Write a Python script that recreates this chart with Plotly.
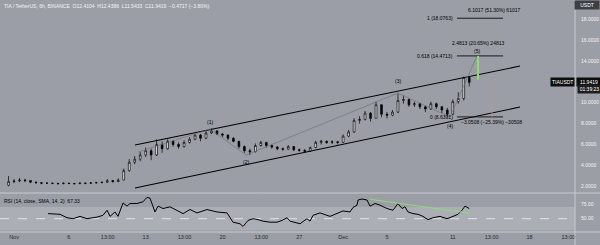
import pandas as pd
import plotly.graph_objects as go

BASE = pd.Timestamp("2023-11-01 00:00")


def at(day):
    return (BASE + pd.Timedelta(days=day)).strftime("%Y-%m-%d %H:%M:%S")


# ---------------- data ----------------
candle_start_day = -0.5      # Oct 31 12:00
candle_step_days = 0.5
first_open = 2.10
closes = [2.45, 2.50, 2.60, 2.55, 2.40, 2.35, 2.30, 2.30, 2.28, 2.25,
          2.30, 2.27, 2.25, 2.30, 2.28, 2.33, 2.35, 2.38, 2.55, 2.45,
          2.60, 3.50, 4.30, 4.60, 5.00, 5.40, 5.00, 6.00, 5.60, 6.30,
          6.00, 5.80, 6.20, 6.50, 6.90, 6.60, 7.10, 7.30, 7.00, 6.90,
          6.60, 6.30, 5.80, 5.40, 5.30, 5.90, 6.20, 5.90, 5.75, 5.60,
          5.55, 5.80, 5.50, 5.45, 5.35, 5.70, 6.20, 6.30, 6.20, 6.25,
          6.20, 6.80, 7.20, 8.30, 8.40, 9.00, 8.50, 9.80, 8.90, 8.80,
          9.10, 10.20, 10.30, 9.80, 9.90, 9.60, 9.40, 9.90, 9.60, 9.30,
          8.90, 10.10, 10.40, 12.41, 11.9419]
highs = [2.98, 2.70, 2.80, 2.72, 2.60, 2.45, 2.40, 2.38, 2.35, 2.33,
         2.36, 2.34, 2.32, 2.36, 2.35, 2.40, 2.42, 2.45, 2.70, 2.60,
         2.75, 3.70, 4.60, 4.90, 5.30, 5.70, 5.60, 6.50, 6.30, 6.50,
         6.40, 6.20, 6.40, 6.70, 7.00, 7.00, 7.30, 7.55, 7.35, 7.10,
         6.95, 6.70, 6.35, 5.90, 5.60, 6.10, 6.35, 6.25, 6.00, 5.85,
         5.70, 5.95, 5.85, 5.60, 5.55, 5.80, 6.35, 6.45, 6.40, 6.40,
         6.35, 6.95, 7.40, 8.50, 8.70, 9.20, 9.10, 10.10, 9.80, 9.10,
         9.30, 10.90, 10.70, 10.40, 10.10, 10.00, 9.70, 10.10, 10.00, 9.70,
         9.50, 10.30, 11.00, 12.50, 12.4386]
lows = [2.00, 2.30, 2.40, 2.40, 2.30, 2.25, 2.20, 2.22, 2.20, 2.18,
        2.20, 2.20, 2.18, 2.22, 2.20, 2.25, 2.28, 2.30, 2.35, 2.35,
        2.40, 2.60, 3.40, 4.10, 4.40, 4.80, 4.50, 4.90, 5.20, 5.50,
        5.80, 5.60, 5.70, 6.10, 6.40, 6.30, 6.50, 7.00, 6.90, 6.70,
        6.40, 6.20, 5.60, 5.20, 5.00, 5.25, 5.80, 5.70, 5.60, 5.45,
        5.40, 5.50, 5.35, 5.30, 5.20, 5.30, 5.65, 6.00, 6.05, 6.05,
        6.00, 6.15, 6.70, 7.10, 8.00, 8.30, 8.20, 8.50, 8.60, 8.50,
        8.70, 9.00, 9.90, 9.60, 9.60, 9.40, 9.10, 9.30, 9.40, 9.00,
        8.64, 8.80, 9.90, 10.20, 11.5433]

rsi_days = [3.10, 4.19, 4.83, 5.38, 6.02, 6.65, 7.57, 8.11, 8.48, 8.75,
            9.21, 9.48, 9.94, 10.30, 10.57, 11.21, 11.76, 12.12, 12.40, 12.85,
            13.13, 13.58, 14.22, 14.86, 15.41, 16.04, 16.68, 17.59, 18.50, 19.42,
            19.96, 20.60, 20.88, 21.33, 21.79, 22.24, 22.70, 23.34, 23.97, 24.43,
            24.89, 25.16, 25.80, 26.07, 26.71, 26.98, 27.26, 27.89, 28.81, 29.44,
            29.99, 30.63, 30.90, 31.27, 31.36, 31.72, 32.18, 32.45, 32.91, 33.36,
            34.00, 34.55, 35.00, 35.37, 35.64, 35.92, 36.37, 36.83, 37.28, 37.74,
            38.20, 38.83, 39.47, 40.02, 40.47, 40.84, 41.11, 41.50]
rsi_values = [58.7, 57.5, 51.7, 50.0, 54.0, 50.0, 52.8, 55.8, 64.5, 54.0,
              61.5, 54.0, 77.0, 71.5, 76.0, 76.0, 79.0, 86.6, 85.0, 61.5,
              71.5, 67.4, 70.3, 64.5, 58.7, 65.7, 59.9, 65.7, 61.5, 59.9,
              44.0, 41.3, 36.6, 47.0, 50.0, 48.3, 45.8, 44.0, 44.0, 47.0,
              51.7, 45.8, 42.3, 41.3, 50.0, 45.8, 55.8, 59.9, 54.0, 58.7,
              63.3, 61.5, 69.2, 73.2, 82.0, 83.7, 82.0, 71.5, 76.0, 73.2,
              67.4, 64.5, 76.0, 67.4, 70.3, 61.5, 58.7, 57.5, 54.0, 48.3,
              51.7, 54.0, 50.0, 54.0, 57.5, 64.5, 71.5, 67.33]
rsi_div_days = [32.45, 41.60]
rsi_div_values = [83.2, 59.2]

wave_days = [11.30, 17.87, 21.15, 35.00, 39.74, 42.20]
wave_prices = [5.28, 7.48, 4.99, 10.92, 8.63, 14.47]
wave_labels = ["", "(1)", "(2)", "(3)", "(4)", "(5)"]

channel_days = [11.03, 46.13]
channel_upper = [5.95, 13.50]
channel_lower = [1.84, 9.58]

fib_days = [40.38, 44.58]
fib_levels = [18.0763, 14.4713, 8.6391]
fib_names = ["1 (18.0763)", "0.618 (14.4713)", "0 (8.6391)"]
measure_texts = ["6.1017 (51.30%) 61017", "2.4813 (20.65%) 24813",
                 "\u22123.0508 (\u221225.39%) \u221230508"]
measure_days = [43.76, 42.30, 43.50]

target_day = 42.30
target_range = [12.20, 14.47]
stop_day = 43.57
stop_range = [12.10, 8.64]

last_price = 11.9419
countdown = "01:39:23"
header = ("TIA / TetherUS, 6h, BINANCE  O12.4104  H12.4386  L11.5433  "
          "C11.9419  \u22120.4717 (\u22123.80%)")
rsi_title = "RSI (14, close, SMA, 14, 2)  67.33"

x_tick_days = [0, 5, 8.54, 12, 15.54, 19, 22.54, 26, 30, 34, 40, 43.54, 47, 50.54]
x_tick_text = ["Nov", "6", "13:00", "13", "13:00", "20", "13:00", "27",
               "Dec", "5", "11", "13:00", "18", "13:00"]
price_ticks = [2, 4, 6, 8, 10, 14, 16, 18]
rsi_ticks = [75, 50]
x_view = [-1.28, 51.14]

# ---------------- styling ----------------
BG = "#9b9ea6"
BAND = "#abaeb5"
SEP = "#c9cbd0"
FONT = "Liberation Sans"

opens = [first_open] + closes[:-1]
candle_x = [at(candle_start_day + i * candle_step_days) for i in range(len(closes))]

fig = go.Figure()
fig.add_trace(go.Candlestick(
    x=candle_x, open=opens, high=highs, low=lows, close=closes,
    increasing=dict(fillcolor="#ffffff", line=dict(color="#000000", width=0.7)),
    decreasing=dict(fillcolor="#000000", line=dict(color="#000000", width=0.7)),
    whiskerwidth=0, xaxis="x", yaxis="y", hoverinfo="skip"))

# channel
for ys in (channel_upper, channel_lower):
    fig.add_trace(go.Scatter(x=[at(d) for d in channel_days], y=ys, mode="lines",
                             line=dict(color="#000000", width=1.1),
                             xaxis="x", yaxis="y", hoverinfo="skip"))
# wave count path
fig.add_trace(go.Scatter(x=[at(d) for d in wave_days], y=wave_prices, mode="lines",
                         line=dict(color="#6a6d74", width=0.6),
                         xaxis="x", yaxis="y", hoverinfo="skip"))
# fib levels
for lv in fib_levels:
    fig.add_trace(go.Scatter(x=[at(d) for d in fib_days], y=[lv, lv], mode="lines",
                             line=dict(color="#1a1a1a", width=1),
                             xaxis="x", yaxis="y", hoverinfo="skip"))
# target & stop verticals
fig.add_trace(go.Scatter(x=[at(target_day)] * 2, y=target_range, mode="lines",
                         line=dict(color="#8fdc74", width=2),
                         xaxis="x", yaxis="y", hoverinfo="skip"))
fig.add_trace(go.Scatter(x=[at(stop_day)] * 2, y=stop_range, mode="lines",
                         line=dict(color="#c3929a", width=0.8),
                         xaxis="x", yaxis="y", hoverinfo="skip"))

# RSI
fig.add_trace(go.Scatter(x=[at(d) for d in rsi_days], y=rsi_values, mode="lines",
                         line=dict(color="#000000", width=1),
                         xaxis="x2", yaxis="y2", hoverinfo="skip"))
fig.add_trace(go.Scatter(x=[at(d) for d in rsi_div_days], y=rsi_div_values, mode="lines",
                         line=dict(color="#8fdc74", width=1),
                         xaxis="x2", yaxis="y2", hoverinfo="skip"))

XR = 575 / 600
price_dom = [(245 - 193) / 245, 1.0]
rsi_dom = [(245 - 232) / 245, (245 - 194) / 245]

shapes = [
    dict(type="rect", xref="x2 domain", yref="y2", x0=0, x1=1, y0=30, y1=70,
         fillcolor=BAND, line=dict(width=0), layer="below"),
    dict(type="line", xref="x2 domain", yref="y2", x0=0, x1=1, y0=50, y1=50,
         line=dict(color="#f2f2f2", width=0.8, dash="dash"), layer="below"),
    dict(type="line", xref="paper", yref="paper", x0=XR, x1=XR, y0=0, y1=1,
         line=dict(color=SEP, width=1)),
    dict(type="line", xref="paper", yref="paper", x0=0, x1=1, y0=price_dom[0], y1=price_dom[0],
         line=dict(color=SEP, width=1)),
    dict(type="line", xref="paper", yref="paper", x0=0, x1=1, y0=rsi_dom[0], y1=rsi_dom[0],
         line=dict(color=SEP, width=1)),
]

ann = []
small = dict(family=FONT, size=5, color="#000000")
ann.append(dict(xref="paper", yref="paper", x=0.003, y=1, xanchor="left", yanchor="top",
                yshift=-1, text=header, showarrow=False,
                font=dict(family=FONT, size=5, color="#f4f4f4")))
ann.append(dict(xref="paper", yref="paper", x=0.003, y=rsi_dom[1], xanchor="left",
                yanchor="top", yshift=-2, text=rsi_title, showarrow=False, font=small))
wave_shift = {"(1)": 7, "(2)": -7, "(3)": 12, "(4)": -9, "(5)": 5}
for d, p, lab in zip(wave_days, wave_prices, wave_labels):
    if lab:
        ann.append(dict(x=at(d), y=p, xref="x", yref="y", text=lab, showarrow=False,
                        yshift=wave_shift[lab], font=small))
for lv, name in zip(fib_levels, fib_names):
    ann.append(dict(x=at(fib_days[0]), y=lv, xref="x", yref="y", text=name,
                    showarrow=False, xanchor="right", xshift=-2, font=small))
meas_y = [fib_levels[0], fib_levels[1], fib_levels[2]]
meas_shift = [8, 13, -5]
for d, t, yv, s in zip(measure_days, measure_texts, meas_y, meas_shift):
    ann.append(dict(x=at(d), y=yv, xref="x", yref="y", text=t, showarrow=False,
                    yshift=s, font=small))
box_font = dict(family=FONT, size=5, color="#ffffff")
ann.append(dict(xref="paper", yref="y", x=XR, y=last_price, xanchor="right",
                text="TIAUSDT", showarrow=False, bgcolor="#0d0d0d", borderpad=1,
                font=box_font))
ann.append(dict(xref="paper", yref="y", x=XR + 0.002, y=last_price, xanchor="left",
                text="11.9419", showarrow=False, bgcolor="#0d0d0d", borderpad=1,
                width=22, font=box_font))
ann.append(dict(xref="paper", yref="y", x=XR + 0.004, y=last_price, xanchor="left",
                yshift=-7, text=countdown, showarrow=False, bgcolor="#1e1e1e",
                borderpad=1, width=21, font=box_font))
ann.append(dict(xref="paper", yref="paper", x=1, y=1, xanchor="right", yanchor="top",
                text="USDT", showarrow=False, bgcolor="#3d3f45", borderpad=1,
                width=22, font=box_font))

fig.update_layout(
    width=600, height=245, margin=dict(l=0, r=0, t=0, b=0),
    paper_bgcolor=BG, plot_bgcolor=BG, showlegend=False, boxgap=0.55,
    xaxis=dict(domain=[0, XR], anchor="y", type="date",
               range=[at(x_view[0]), at(x_view[1])], showticklabels=False,
               showgrid=False, zeroline=False, showline=False,
               rangeslider=dict(visible=False), automargin=False),
    xaxis2=dict(domain=[0, XR], anchor="y2", type="date", matches="x",
                range=[at(x_view[0]), at(x_view[1])],
                tickmode="array", tickvals=[at(d) for d in x_tick_days],
                ticktext=x_tick_text, ticks="", showgrid=False, zeroline=False,
                showline=False, tickfont=dict(family=FONT, size=5.5, color="#2a2a2a"),
                automargin=False),
    yaxis=dict(domain=price_dom, anchor="x", side="right", range=[1.36, 19.82],
               tickmode="array", tickvals=price_ticks, tickformat=".4f",
               ticks="outside", ticklen=4, tickcolor="rgba(0,0,0,0)",
               showgrid=False, zeroline=False, showline=False,
               tickfont=dict(family=FONT, size=5, color="#f4f4f4"), automargin=False),
    yaxis2=dict(domain=rsi_dom, anchor="x2", side="right", range=[27.2, 92.3],
                tickmode="array", tickvals=rsi_ticks, tickformat=".2f",
                ticks="outside", ticklen=4, tickcolor="rgba(0,0,0,0)",
                showgrid=False, zeroline=False, showline=False,
                tickfont=dict(family=FONT, size=5, color="#f4f4f4"), automargin=False),
    shapes=shapes, annotations=ann,
)

fig.write_html("out.html")
